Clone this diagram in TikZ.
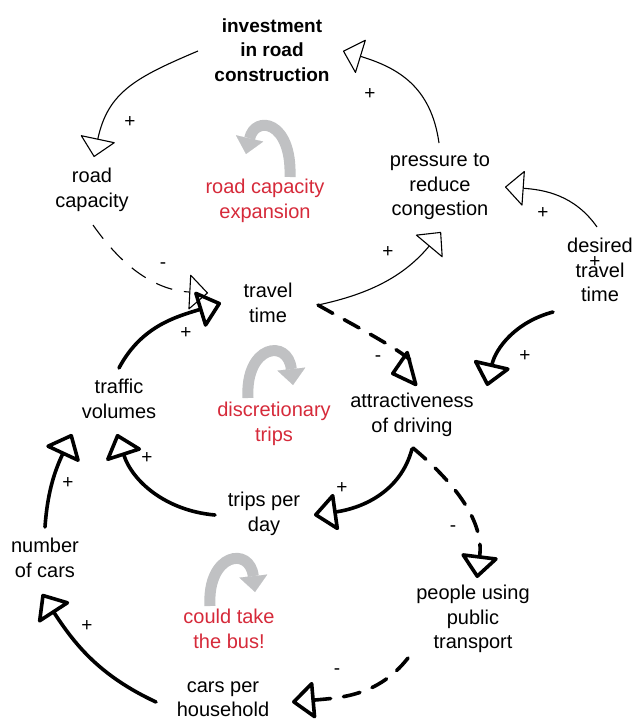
\documentclass[tikz,border=0pt]{standalone}
\usepackage{fontspec}
\setmainfont{Liberation Sans}
\usetikzlibrary{arrows.meta,calc}
\definecolor{loopred}{RGB}{214,42,58}
\definecolor{loopgrey}{RGB}{192,193,195}
\begin{document}
\begin{tikzpicture}[x=1pt,y=1pt,
  var/.style={align=center,font=\fontsize{20}{24.5}\selectfont,inner sep=0pt},
  boldvar/.style={var,font=\fontsize{19}{24.5}\selectfont\bfseries},
  looplabel/.style={var,text=loopred},
  sign/.style={font=\fontsize{19}{19}\selectfont,inner sep=0pt},
  thinlink/.style={line width=1.1pt,-{Triangle[open,length=19pt,width=36pt,round]}},
  thicklink/.style={line width=3.6pt,line cap=round,-{Triangle[open,length=24pt,width=40pt,round]}},
  thindash/.style={thinlink,dash pattern=on 17pt off 12pt},
  thickdash/.style={thicklink,dash pattern=on 17pt off 13pt},
  loopgreyarrow/.style={loopgrey,line width=11pt,-{Triangle[length=16pt,width=28pt,line width=0.1pt]}}]
\useasboundingbox (0,0) rectangle (634,-720);
\fill[white] (0,0) rectangle (634,-720);

% variables
\node[boldvar] (invest) at (272,-50) {investment\\in road\\construction};
\node[var] (roadcap) at (92,-190) {road\\capacity};
\node[var] (pressure) at (440,-187) {pressure to\\reduce\\congestion};
\node[var] (desired) at (600,-270) {desired\\travel\\time};
\node[var] (travel) at (268,-303) {travel\\time};
\node[var] (traffic) at (119,-399) {traffic\\volumes};
\node[var] (attr) at (412,-415) {attractiveness\\of driving};
\node[var] (trips) at (264,-514) {trips per\\day};
\node[var] (ncars) at (45,-558) {number\\of cars};
\node[var] (people) at (473,-619) {people using\\public\\transport};
\node[var] (cph) at (223,-699) {cars per\\household};

% loop labels
\node[looplabel] (lrce) at (265,-201) {road capacity\\expansion};
\node[looplabel] (ldisc) at (274,-424) {discretionary\\trips};
\node[looplabel] (lbus) at (229,-629) {could take\\the bus!};

% loop arrows
\draw[loopgreyarrow] (290,-177) .. controls (292,-120) and (255,-115) .. (246,-154);
\draw[loopgreyarrow] (248,-398) .. controls (245,-345) and (288,-338) .. (293,-385);
\draw[loopgreyarrow] (210,-606) .. controls (207,-553) and (250,-546) .. (255,-592);

% thin links
\draw[thinlink] ($(invest)+(-74,-1)$) to[out=203,in=78,looseness=1.15] ($(roadcap)+(2,33)$);
\draw[thinlink] ($(pressure)+(-1,44)$) to[out=98,in=-17,looseness=1.1] ($(invest)+(71,-1)$);
\draw[thinlink] ($(desired)+(-3,43)$) to[out=125,in=-4] ($(pressure)+(65,0)$);
\draw[thindash] ($(roadcap)+(1,-35)$) to[out=-55,in=177] ($(travel)+(-60,10)$);
\draw[thinlink] ($(travel)+(50,-2)$) to[out=12,in=230] ($(pressure)+(1,-45)$);

% thick links
\draw[thicklink] ($(traffic)+(0,31)$) to[out=62,in=197] ($(travel)+(-47,0)$);
\draw[thickdash] ($(travel)+(50,-2)$) to[out=-30,in=15] ($(attr)+(-21,41)$);
\draw[thicklink] ($(desired)+(-47,-42)$) to[out=195,in=77] ($(attr)+(75,29)$);
\draw[thicklink] ($(attr)+(0,-34)$) to[out=255,in=8] ($(trips)+(50,-1)$);
\draw[thicklink] ($(trips)+(-49,-1)$) to[out=175,in=288] ($(traffic)+(-2,-35)$);
\draw[thicklink] ($(ncars)+(0,31)$) to[out=86,in=245] ($(traffic)+(-47,-35)$);
\draw[thickdash] ($(attr)+(1,-33)$) to[out=-40,in=83] ($(people)+(4,41)$);
\draw[thickdash] ($(people)+(-65,-39)$) to[out=232,in=5] ($(cph)+(69,-3)$);
\draw[thicklink] ($(cph)+(-67,-3)$) to[out=155,in=303] ($(ncars)+(-3,-36)$);

% polarity signs
\node[sign] (s1) at (130,-122) {+};
\node[sign] (s2) at (370,-94) {+};
\node[sign] (s3) at (543,-213) {+};
\node[sign] (s4) at (163,-266) {-};
\node[sign] (s5) at (388,-252) {+};
\node[sign] (s6) at (186,-333) {+};
\node[sign] (s7) at (378,-359) {-};
\node[sign] (s8) at (525,-356) {+};
\node[sign] (s9) at (342,-488) {+};
\node[sign] (s10) at (147,-458) {+};
\node[sign] (s11) at (68,-483) {+};
\node[sign] (s12) at (453,-529) {-};
\node[sign] (s13) at (337,-672) {-};
\node[sign] (s14) at (87,-626) {+};
\node[sign] (s15) at (595,-262) {+};
\end{tikzpicture}
\end{document}
